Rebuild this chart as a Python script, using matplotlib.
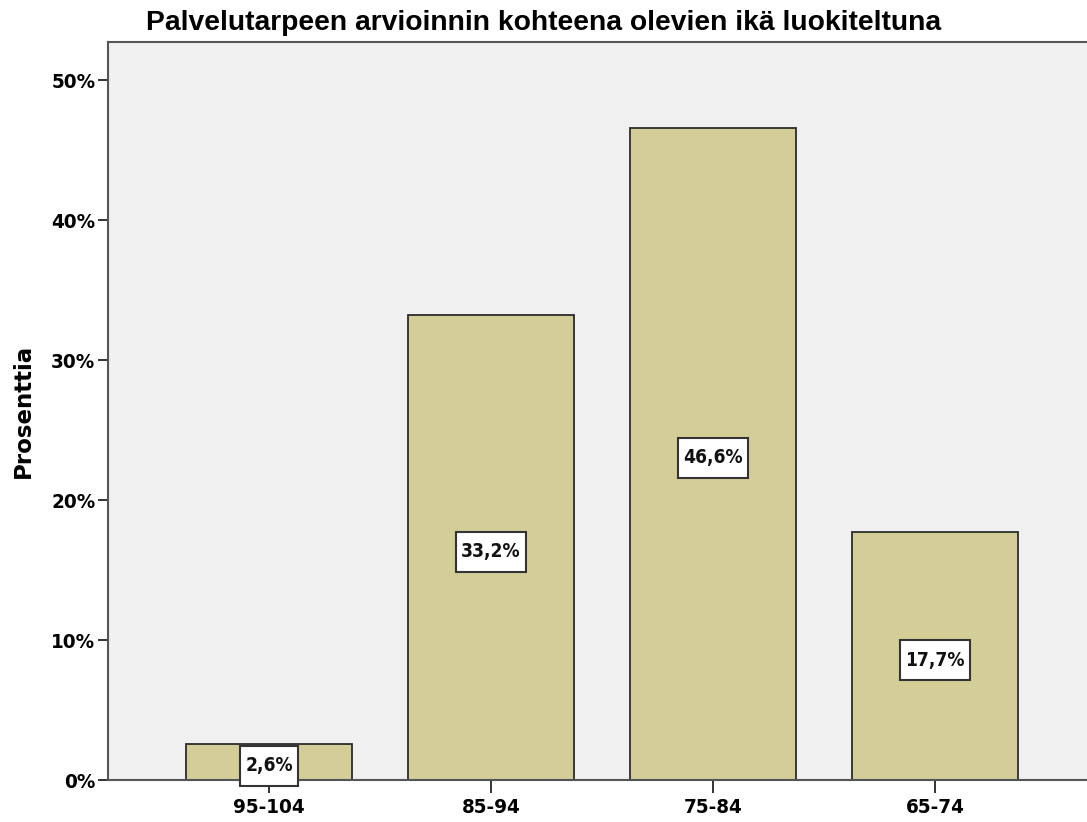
import matplotlib
matplotlib.use("Agg")
import matplotlib.pyplot as plt
from matplotlib import font_manager
from matplotlib.path import Path
from matplotlib.ticker import FuncFormatter

categories = ["95-104", "85-94", "75-84", "65-74"]
values = [2.6, 33.2, 46.6, 17.7]
value_labels = ["2,6%", "33,2%", "46,6%", "17,7%"]
yticks = [0, 10, 20, 30, 40, 50]

W, H = 1087, 822
fig = plt.figure(figsize=(W / 100, H / 100), dpi=100)
fig.patch.set_facecolor("white")

# choose a narrow bold font if available
flist = font_manager.fontManager.ttflist
names = {f.name for f in flist}
if "Liberation Sans Narrow" in names:
    narrow_kw = dict(family=["Liberation Sans Narrow", "DejaVu Sans"])
    nscale = 1.0
elif any(f.name == "DejaVu Sans" and "Condensed" in f.fname for f in flist):
    narrow_kw = dict(family=["DejaVu Sans"], fontstretch="condensed")
    nscale = 0.92
else:
    narrow_kw = dict(family=["Liberation Sans", "DejaVu Sans"])
    nscale = 1.0


def label_box(x0, y0, width, height, mutation_size):
    px = 0.28 * mutation_size
    py = 0.55 * mutation_size
    x0, y0 = x0 - px, y0 - py
    x1, y1 = x0 + width + 2 * px, y0 + height + 2 * py
    return Path([(x0, y0), (x1, y0), (x1, y1), (x0, y1), (x0, y0)], closed=True)


left_px, top_px, bottom_px = 108, 42, 780
xmin, xmax = -0.725, 3.725
unit = 222.0
width_px = (xmax - xmin) * unit
ax = fig.add_axes([left_px / W, 1 - bottom_px / H, width_px / W, (bottom_px - top_px) / H])
ax.set_facecolor("#F0F0F0")

x = list(range(len(categories)))
ax.bar(x, values, width=0.75, color="#D3CE98", edgecolor="#2b2b2b", linewidth=1.3, zorder=2)
for xi, v, lab in zip(x, values, value_labels):
    ax.annotate(lab, xy=(xi, v / 2), xytext=(0, -3), textcoords="offset points",
                ha="center", va="center", fontsize=15 * nscale, fontweight="bold",
                color="#111111", zorder=3, annotation_clip=False, **narrow_kw,
                bbox=dict(boxstyle=label_box, facecolor="white", edgecolor="#333333", linewidth=1.5))

ax.set_xlim(xmin, xmax)
ax.set_ylim(0, (bottom_px - top_px) / 14.0)
ax.set_yticks(yticks)
ax.yaxis.set_major_formatter(FuncFormatter(lambda v, p: f"{int(v)}%"))
ax.set_xticks(x)
ax.set_xticklabels(categories)
for lab in ax.get_xticklabels() + ax.get_yticklabels():
    lab.set_fontweight("bold")
    lab.set_family(narrow_kw["family"])
    if "fontstretch" in narrow_kw:
        lab.set_fontstretch(narrow_kw["fontstretch"])
    lab.set_fontsize(16 * nscale)
ax.tick_params(axis="y", length=7, width=1.4, color="#333333", pad=2)
ax.tick_params(axis="x", length=9, width=1.4, color="#333333", pad=4)
for s in ax.spines.values():
    s.set_color("#555555")
    s.set_linewidth(1.5)

ax.set_ylabel("Prosenttia", fontsize=16.5, fontweight="bold", family=["DejaVu Sans"], labelpad=12)
fig.text(544 / W, 1 - 23 / H, "Palvelutarpeen arvioinnin kohteena olevien ikä luokiteltuna",
         ha="center", va="center", fontsize=20.3, fontweight="bold", family=["Liberation Sans", "DejaVu Sans"])

fig.savefig("out.png", dpi=100, facecolor="white")
